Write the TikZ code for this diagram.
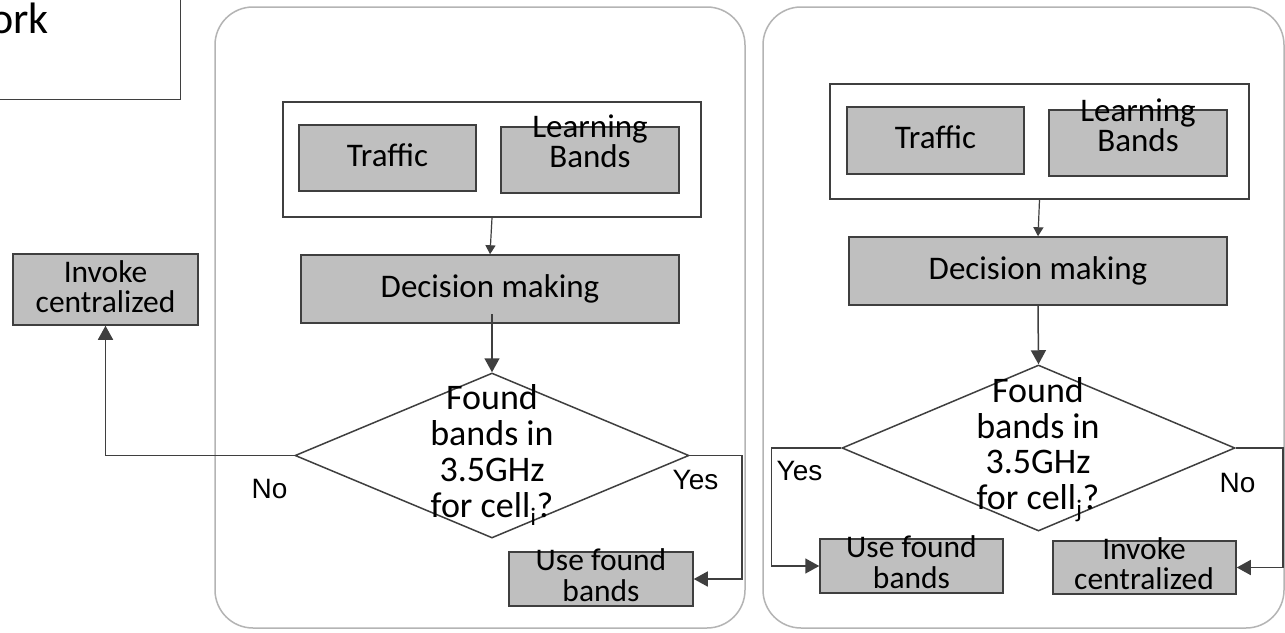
\documentclass[tikz,border=0pt]{standalone}
\usepackage{fontspec}
\setmainfont{Carlito}
\newfontfamily\labelfont{Liberation Sans}
\usetikzlibrary{arrows.meta,shapes.geometric}
\definecolor{boxfill}{HTML}{BFBFBF}
\definecolor{edge}{HTML}{3F3F3F}
\definecolor{panelgray}{HTML}{B4B4B4}
\begin{document}
\begin{tikzpicture}[x=1pt,y=-1pt,
  box/.style={draw=edge, line width=1.5pt, fill=boxfill, inner sep=0pt},
  frame/.style={draw=edge, line width=1.5pt, fill=white, inner sep=0pt},
  panelbox/.style={draw=panelgray, line width=1.5pt, rounded corners=38pt, inner sep=0pt},
  diam/.style={diamond, draw=edge, line width=1.5pt, inner sep=0pt},
  txt/.style={inner sep=0pt, text=black, align=center, font=\fontsize{33}{33}\selectfont},
  lbl/.style={inner sep=0pt, text=black, font=\labelfont\fontsize{28}{28}\selectfont, anchor=base},
  arr/.style={draw=edge, line width=1.5pt, -{Triangle[length=14pt,width=15pt]}},
  arrthin/.style={draw=edge, line width=1.2pt, -{Triangle[length=9pt,width=10pt]}}]
\useasboundingbox (0,0) rectangle (1285,632);
\clip (0,0) rectangle (1285,632);
\fill[white] (0,0) rectangle (1285,632);

% framed title, partly off the page
\node[frame, minimum width=220, minimum height=130, anchor=south east] (titlebox) at (181,100) {};
\node[txt, font=\fontsize{44}{44}\selectfont, anchor=base west] (titletext) at (-10,33) {ork};

% the two panels
\node[panelbox, minimum width=530, minimum height=621] (panelL) at (480,317.5) {};
\node[panelbox, minimum width=521, minimum height=621] (panelR) at (1023.5,317.5) {};

% ---- left panel: cell i ----
% (multi-line labels are placed by the baseline of their last line)
\node[frame, minimum width=418, minimum height=115] (grpL) at (492,159.5) {};
\node[box, minimum width=177, minimum height=66] (trfL) at (387.5,158) {};
\node[txt, anchor=base] (trfLt) at (387.5,166) {Traffic};
\node[box, minimum width=178, minimum height=66] (lrnL) at (590,160) {};
\node[txt, anchor=base, font=\fontsize{33}{24}\selectfont] (lrnLt) at (590,167) {Learning\\Bands};

\node[box, minimum width=378, minimum height=68] (decL) at (490,289) {};
\node[txt, anchor=base] (decLt) at (490,297) {Decision making};

\node[diam, minimum width=394, minimum height=165] (dL) at (492,455.5) {};
\node[txt, anchor=base, font=\fontsize{36}{36}\selectfont] (dLt) at (492,517)
  {Found\\bands in\\3.5GHz\\for cell\textsubscript{i}?};

\node[box, minimum width=184, minimum height=54] (useL) at (601,579) {};
\node[txt, anchor=base, font=\fontsize{31.5}{31}\selectfont] (useLt) at (601,601) {Use found\\bands};

\node[box, minimum width=185, minimum height=71] (invL) at (105.5,289.5) {};
\node[txt, anchor=base, font=\fontsize{31.5}{30}\selectfont] (invLt) at (105.5,312) {Invoke\\centralized};

\node[lbl] (yesL) at (695.5,489) {Yes};
\node[lbl] (noL) at (269.5,498) {No};

\coordinate (decLout) at (492,314);
\draw[arrthin] (grpL.south) -- (decL.north);
\draw[arr] (decLout) -- (dL.north);
\draw[arr] (dL.west) -| (invL.south);
\draw[arr] (dL.east) -- ++(52,0) |- (useL.east);

% ---- right panel: cell j ----
\node[frame, minimum width=419, minimum height=115] (grpR) at (1039.5,141.5) {};
\node[box, minimum width=177, minimum height=67] (trfR) at (935.5,140.5) {};
\node[txt, anchor=base] (trfRt) at (935.5,148) {Traffic};
\node[box, minimum width=178, minimum height=66] (lrnR) at (1138,143) {};
\node[txt, anchor=base, font=\fontsize{33}{22.5}\selectfont] (lrnRt) at (1138,151) {Learning\\Bands};

\node[box, minimum width=378, minimum height=68] (decR) at (1038,271) {};
\node[txt, anchor=base] (decRt) at (1038,279) {Decision making};

\node[diam, minimum width=393, minimum height=166] (dR) at (1038.5,448) {};
\node[txt, anchor=base, font=\fontsize{36}{35.5}\selectfont] (dRt) at (1038,509)
  {Found\\bands in\\3.5GHz\\for cell\textsubscript{j}?};

\node[box, minimum width=183, minimum height=54] (useR) at (911.5,566) {};
\node[txt, anchor=base, font=\fontsize{31.5}{31}\selectfont] (useRt) at (911.5,588) {Use found\\bands};

\node[box, minimum width=183, minimum height=53] (invR) at (1144.5,567.5) {};
\node[txt, anchor=base, font=\fontsize{31.5}{30}\selectfont] (invRt) at (1144,589) {Invoke\\centralized};

\node[lbl] (yesR) at (799.5,480) {Yes};
\node[lbl] (noR) at (1237.5,492) {No};

\draw[arrthin] (grpR.south) -- (decR.north);
\draw[arr] (decR.south) -- (dR.north);
\draw[arr] (dR.west) -- ++(-70,0) |- (useR.west);
\draw[arr] (dR.east) -- ++(47,0) |- (invR.east);
\end{tikzpicture}
\end{document}
